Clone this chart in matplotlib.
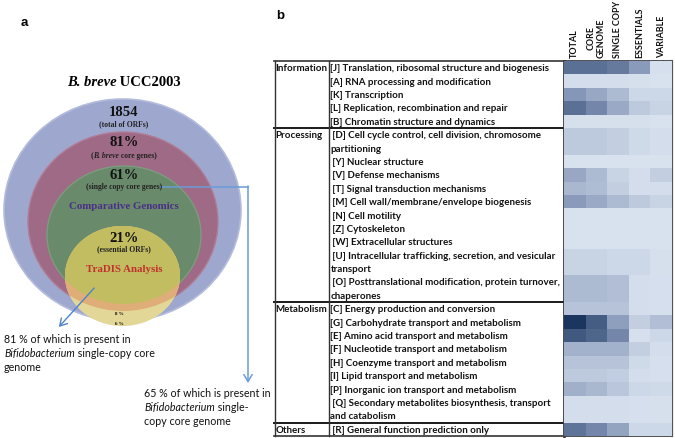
import numpy as np
import matplotlib.pyplot as plt
from matplotlib.patches import Ellipse
from matplotlib.colors import LinearSegmentedColormap
import matplotlib.transforms as mtransforms

# ---- Datos: panel a (diagrama de círculos) ----
n_orfs = "1854"
pct_core = "81%"
pct_single = "61%"
pct_essential = "21%"
pct_band1 = "8 %"
pct_band2 = "6 %"

# ---- Datos: panel b (categorías COG y heatmap) ----
cog_groups = ["Information"] * 5 + ["Processing"] * 10 + ["Metabolism"] * 8 + ["Others"]
cog_labels = [
    "[J] Translation, ribosomal structure and biogenesis",
    "[A] RNA processing and modification",
    "[K] Transcription",
    "[L] Replication, recombination and repair",
    "[B] Chromatin structure and dynamics",
    " [D] Cell cycle control, cell division, chromosome\npartitioning",
    " [Y] Nuclear structure",
    " [V] Defense mechanisms",
    " [T] Signal transduction mechanisms",
    " [M] Cell wall/membrane/envelope biogenesis",
    " [N] Cell motility",
    " [Z] Cytoskeleton",
    " [W] Extracellular structures",
    " [U] Intracellular trafficking, secretion, and vesicular\ntransport",
    " [O] Posttranslational modification, protein turnover,\nchaperones",
    "[C] Energy production and conversion",
    "[G] Carbohydrate transport and metabolism",
    "[E] Amino acid transport and metabolism",
    "[F] Nucleotide transport and metabolism",
    "[H] Coenzyme transport and metabolism",
    "[I] Lipid transport and metabolism",
    "[P] Inorganic ion transport and metabolism",
    " [Q] Secondary metabolites biosynthesis, transport\nand catabolism",
    " [R] General function prediction only",
]
col_labels = ["TOTAL", "CORE\nGENOME", "SINGLE COPY", "ESSENTIALS", "VARIABLE"]

# intensidad relativa (0 = claro, 1 = oscuro)
total_vals  = [0.70, 0.06, 0.50, 0.70, 0.04, 0.18, 0.03, 0.40, 0.30, 0.48, 0.03, 0.03,
               0.03, 0.12, 0.28, 0.22, 1.00, 0.82, 0.33, 0.22, 0.18, 0.35, 0.06, 0.68]
core_vals   = [0.70, 0.06, 0.40, 0.58, 0.04, 0.18, 0.03, 0.28, 0.26, 0.38, 0.03, 0.03,
               0.03, 0.12, 0.28, 0.22, 0.80, 0.75, 0.33, 0.22, 0.18, 0.30, 0.06, 0.58]
single_vals = [0.65, 0.06, 0.28, 0.38, 0.04, 0.15, 0.03, 0.12, 0.15, 0.28, 0.03, 0.03,
               0.03, 0.10, 0.25, 0.22, 0.45, 0.58, 0.33, 0.22, 0.16, 0.20, 0.06, 0.42]
ess_vals    = [0.48, 0.04, 0.10, 0.18, 0.04, 0.08, 0.03, 0.06, 0.06, 0.18, 0.03, 0.03,
               0.03, 0.10, 0.06, 0.06, 0.15, 0.05, 0.15, 0.08, 0.06, 0.10, 0.05, 0.10]
var_vals    = [0.05, 0.03, 0.10, 0.12, 0.03, 0.06, 0.03, 0.15, 0.06, 0.12, 0.03, 0.03,
               0.03, 0.04, 0.05, 0.05, 0.25, 0.10, 0.06, 0.05, 0.05, 0.08, 0.04, 0.10]

SERIF = "Liberation Serif"
SANS = "Lato"

W, H = 675, 439
fig = plt.figure(figsize=(W / 100, H / 100), dpi=100)
ax = fig.add_axes([0, 0, 1, 1])
ax.set_xlim(0, W)
ax.set_ylim(H, 0)
ax.axis("off")
renderer = fig.canvas.get_renderer()


def rich(x, y, parts, ha="center", **kw):
    # texto con partes en cursiva / normal en la misma línea
    arts = [ax.text(0, y, s, fontstyle=st, ha="left", va="center", **kw) for s, st in parts]
    widths = [a.get_window_extent(renderer).width for a in arts]
    x0 = x - sum(widths) / 2 if ha == "center" else x
    for a, w in zip(arts, widths):
        a.set_x(x0)
        x0 += w


# ---------------- panel a ----------------
ax.text(24, 23, "a", fontsize=9.5, fontweight="bold", family="Liberation Sans", ha="center", va="center")
rich(124, 82, [("B. breve", "italic"), (" UCC2003", "normal")], family=SERIF, fontsize=10.5, fontweight="bold")

ax.add_patch(Ellipse((122.5, 211), 237, 222, facecolor="#9ea8cf", edgecolor="#b4bcdc", lw=1.2))
ax.add_patch(Ellipse((123, 222.5), 190, 179, facecolor="#9f6a86", edgecolor="#b07d97", lw=1))
ax.add_patch(Ellipse((124, 236), 154, 138, facecolor="#6a8a6c", edgecolor="#7d9b7e", lw=1))

# círculo TraDIS con mezcla de colores según lo que queda debajo
yel_c, yel_w, yel_h = (122.5, 277), 115, 100
ax.add_patch(Ellipse(yel_c, yel_w, yel_h, facecolor="#e2d797", edgecolor="none"))
orange = ax.add_patch(Ellipse(yel_c, yel_w, yel_h, facecolor="#dfae78", edgecolor="none"))
orange.set_clip_path(Ellipse((123, 222.5), 190, 179, transform=ax.transData))
olive = ax.add_patch(Ellipse(yel_c, yel_w, yel_h, facecolor="#c2bd60", edgecolor="none"))
olive.set_clip_path(Ellipse((124, 236), 154, 138, transform=ax.transData))

big = dict(family=SERIF, fontweight="bold", fontsize=10.5, ha="center", va="center", color="#111111")
small = dict(family=SERIF, fontweight="bold", fontsize=5.5, color="#222222")
ax.text(124, 113, n_orfs, **big)
rich(124, 124.5, [("(total of ORFs)", "normal")], **small)
ax.text(124, 143, pct_core, **big)
rich(124, 156, [("(", "normal"), ("B. breve", "italic"), (" core genes)", "normal")], **small)
ax.text(124, 176, pct_single, **big)
rich(124, 187.5, [("(single copy core genes)", "normal")], **small)
ax.text(124, 207, "Comparative Genomics", family=SERIF, fontweight="bold", fontsize=7.8,
        color="#4a2f86", ha="center", va="center")
ax.text(124, 239, pct_essential, **big)
rich(124, 249.5, [("(essential ORFs)", "normal")], **small)
ax.text(124, 270, "TraDIS Analysis", family=SERIF, fontweight="bold", fontsize=7.8,
        color="#c0312e", ha="center", va="center")
ax.text(119, 314, pct_band1, family=SERIF, fontweight="bold", fontsize=3.6, ha="center", va="center")
ax.text(119, 324, pct_band2, family=SERIF, fontweight="bold", fontsize=3.6, ha="center", va="center")

# flechas
arrow_col = "#4f83c9"
ax.annotate("", xy=(57, 330), xytext=(96, 287),
            arrowprops=dict(arrowstyle="->,head_length=0.5,head_width=0.3", color=arrow_col, lw=1))
ax.plot([161, 248], [187.5, 187.5], color="#6b9bd6", lw=1.1)
ax.annotate("", xy=(248, 384), xytext=(248, 187),
            arrowprops=dict(arrowstyle="->,head_length=0.5,head_width=0.3", color="#6b9bd6", lw=1.1,
                            shrinkA=0, shrinkB=0))

note = dict(family=SANS, fontsize=7.7, color="#111111")
rich(4, 340, [("81 % of which is present in", "normal")], ha="left", **note)
rich(4, 354, [("Bifidobacterium", "italic"), (" single-copy core", "normal")], ha="left", **note)
rich(4, 368, [("genome", "normal")], ha="left", **note)
rich(144, 394, [("65 % of which is present in", "normal")], ha="left", **note)
rich(144, 408, [("Bifidobacterium", "italic"), (" single-", "normal")], ha="left", **note)
rich(144, 422, [("copy core genome", "normal")], ha="left", **note)

# ---------------- panel b ----------------
ax.text(280, 16, "b", fontsize=9.5, fontweight="bold", family="Liberation Sans", ha="center", va="center")

n_lines = [lab.count("\n") + 1 for lab in cog_labels]
y_edges = np.concatenate([[0], np.cumsum(n_lines)])
n_tot = y_edges[-1]

hm = fig.add_axes([564 / W, (H - 437) / H, 108 / W, 375 / H])
vals = np.array([total_vals, core_vals, single_vals, ess_vals, var_vals]).T
cmap = LinearSegmentedColormap.from_list("cog", ["#dde6f2", "#8597b8", "#1a365f"])
hm.pcolormesh(np.arange(len(col_labels) + 1), y_edges, vals, cmap=cmap, vmin=0, vmax=1)
hm.set_xlim(0, len(col_labels))
hm.set_ylim(n_tot, 0)
hm.set_xticks([])
hm.set_yticks([])
for s in hm.spines.values():
    s.set_visible(False)

# encabezados rotados
for i, lab in enumerate(col_labels):
    hm.text(i + 0.5, -0.3, lab, rotation=90, ha="center", va="bottom", family=SANS,
            fontsize=6.4, fontweight="bold", color="#111111", linespacing=1.1)

# texto de la tabla: x en píxeles, y en líneas del heatmap
trans = mtransforms.blended_transform_factory(ax.transData, hm.transData)
tab = dict(family=SANS, fontsize=7.05, fontweight="bold", color="#111111", va="center", transform=trans)
prev = None
for i, (grp, lab) in enumerate(zip(cog_groups, cog_labels)):
    if grp != prev:
        ax.text(275.5, y_edges[i] + 0.5, grp, **tab)
        if prev is not None:
            ax.plot([274, 672], [y_edges[i], y_edges[i]], color="#1a1a1a", lw=1.4, transform=trans)
        prev = grp
    for k, line in enumerate(lab.split("\n")):
        ax.text(330.5, y_edges[i] + k + 0.5, line, **tab)

# marco de la tabla
ax.plot([274, 672], [0, 0], color="#333333", lw=1.2, transform=trans)
ax.plot([274, 672], [n_tot, n_tot], color="#333333", lw=1.2, transform=trans)
for xv, lw, c in [(274.5, 1.0, "#333333"), (329, 1.0, "#333333"), (564, 2.0, "#3a3a3a"), (672, 1.6, "#555555")]:
    ax.plot([xv, xv], [0, n_tot], color=c, lw=lw, transform=trans)

fig.savefig("out.png", dpi=100)
